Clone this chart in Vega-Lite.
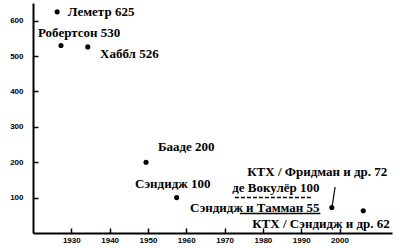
{
  "$schema": "https://vega.github.io/schema/vega-lite/v6.json",
  "width": 359,
  "height": 230,
  "autosize": "none",
  "padding": {"left": 33, "top": 3, "right": 8, "bottom": 15},
  "background": "white",
  "config": {
    "view": {"stroke": null},
    "axis": {
      "domainColor": "black",
      "domainWidth": 2,
      "tickColor": "black",
      "tickWidth": 1.5,
      "tickSize": -5,
      "labelColor": "black",
      "labelFont": "Liberation Sans",
      "labelFontWeight": "bold",
      "labelFontSize": 8,
      "grid": false,
      "title": null
    }
  },
  "datasets": {
    "points": [
      {"name": "Леметр", "year": 1926.3, "value": 625},
      {"name": "Робертсон", "year": 1927.3, "value": 530},
      {"name": "Хаббл", "year": 1934.3, "value": 526},
      {"name": "Бааде", "year": 1949.5, "value": 200},
      {"name": "Сэндидж", "year": 1957.5, "value": 100},
      {"name": "КТХ / Фридман и др.", "year": 1998.0, "value": 72},
      {"name": "КТХ / Сэндидж и др.", "year": 2006.2, "value": 63}
    ],
    "ranges": [
      {"name": "де Вокулёр", "start": 1972.7, "end": 1992.8, "value": 100, "kind": "dashed"},
      {"name": "Сэндидж и Тамман", "start": 1974, "end": 1995, "value": 55, "kind": "solid"}
    ],
    "leaders": [
      {"year": 1998.85, "value": 130, "year2": 1998.1, "value2": 77}
    ],
    "labels": [
      {"label": "Леметр 625", "year": 1929.1, "value": 625},
      {"label": "Робертсон 530", "year": 1921.3, "value": 565},
      {"label": "Хаббл 526", "year": 1937.5, "value": 506},
      {"label": "Бааде 200", "year": 1952.6, "value": 242},
      {"label": "Сэндидж 100", "year": 1946.6, "value": 138},
      {"label": "де Вокулёр 100", "year": 1972.0, "value": 127},
      {"label": "Сэндидж и Тамман 55", "year": 1961.0, "value": 71},
      {"label": "КТХ / Фридман и др. 72", "year": 1975.9, "value": 172},
      {"label": "КТХ / Сэндидж и др. 62", "year": 1977.2, "value": 25}
    ]
  },
  "layer": [
    {
      "data": {"name": "points"},
      "mark": {"type": "circle", "size": 26, "color": "black", "opacity": 1},
      "encoding": {
        "x": {"field": "year", "type": "quantitative",
              "scale": {"domain": [1920, 2013.7], "nice": false, "zero": false},
              "axis": {"values": [1930, 1940, 1950, 1960, 1970, 1980, 1990, 2000], "format": "d", "labelPadding": 8}},
        "y": {"field": "value", "type": "quantitative",
              "scale": {"domain": [0, 650], "nice": false, "zero": false},
              "axis": {"values": [100, 200, 300, 400, 500, 600], "labelPadding": 15}}
      }
    },
    {
      "data": {"name": "ranges"},
      "mark": {"type": "rule", "color": "black", "strokeWidth": 1.5},
      "encoding": {
        "x": {"field": "start", "type": "quantitative"},
        "x2": {"field": "end"},
        "y": {"field": "value", "type": "quantitative"},
        "strokeDash": {"field": "kind", "type": "nominal",
                       "scale": {"domain": ["solid", "dashed"], "range": [[1, 0], [4, 2]]},
                       "legend": null}
      }
    },
    {
      "data": {"name": "leaders"},
      "mark": {"type": "rule", "color": "black", "strokeWidth": 1.2},
      "encoding": {
        "x": {"field": "year", "type": "quantitative"},
        "y": {"field": "value", "type": "quantitative"},
        "x2": {"field": "year2"},
        "y2": {"field": "value2"}
      }
    },
    {
      "data": {"name": "labels"},
      "mark": {"type": "text", "align": "left", "baseline": "middle",
               "font": "Liberation Serif", "fontWeight": "bold", "fontSize": 13, "color": "black"},
      "encoding": {
        "x": {"field": "year", "type": "quantitative"},
        "y": {"field": "value", "type": "quantitative"},
        "text": {"field": "label"}
      }
    }
  ]
}
